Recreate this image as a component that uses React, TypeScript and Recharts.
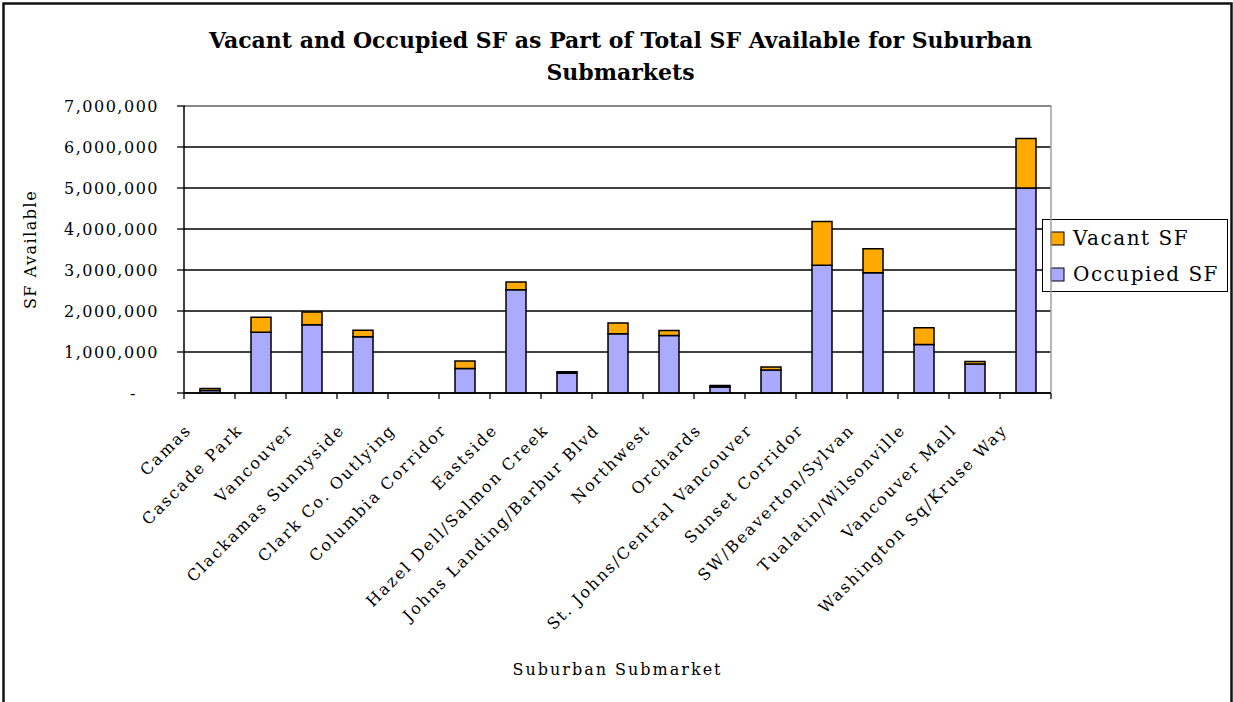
import React from 'react';
import { BarChart, Bar, XAxis, YAxis, CartesianGrid, Legend } from 'recharts';

const categories = [
  'Camas',
  'Cascade Park',
  'Vancouver',
  'Clackamas Sunnyside',
  'Clark Co. Outlying',
  'Columbia Corridor',
  'Eastside',
  'Hazel Dell/Salmon Creek',
  'Johns Landing/Barbur Blvd',
  'Northwest',
  'Orchards',
  'St. Johns/Central Vancouver',
  'Sunset Corridor',
  'SW/Beaverton/Sylvan',
  'Tualatin/Wilsonville',
  'Vancouver Mall',
  'Washington Sq/Kruse Way',
];

const occupiedSF = [
  60000, 1480000, 1665000, 1375000, 0, 595000, 2520000, 480000, 1445000,
  1405000, 145000, 560000, 3115000, 2935000, 1185000, 705000, 5000000,
];

const vacantSF = [
  50000, 370000, 310000, 155000, 0, 185000, 185000, 40000, 260000,
  120000, 40000, 75000, 1065000, 585000, 405000, 65000, 1210000,
];

const yTicks = [0, 1000000, 2000000, 3000000, 4000000, 5000000, 6000000, 7000000];

const data = categories.map((name, i) => ({
  name,
  occupied: occupiedSF[i],
  vacant: vacantSF[i],
}));

const W = 1233;
const H = 702;
const PLOT_LEFT = 184;
const PLOT_RIGHT = 1051;
const PLOT_TOP = 106;
const PLOT_BOTTOM = 393;
const X_AXIS_H = 60;
const BAND = (PLOT_RIGHT - PLOT_LEFT) / categories.length;

const FONT = '"DejaVu Serif", serif';
const OCCUPIED = '#AAAAFF';
const VACANT = '#FFAA00';

const XTick = (props: any) => {
  const { x, y, payload, index } = props;
  const left = x - BAND / 2;
  const tx = x - 17;
  const ty = y + 38;
  return (
    <g>
      <line x1={left} y1={y} x2={left} y2={y + 6} stroke="#000" strokeWidth={1.3} />
      {index === categories.length - 1 && (
        <line x1={x + BAND / 2} y1={y} x2={x + BAND / 2} y2={y + 6} stroke="#000" strokeWidth={1.3} />
      )}
      <text
        x={tx}
        y={ty}
        textAnchor="end"
        transform={`rotate(-45, ${tx}, ${ty})`}
        fontFamily={FONT}
        fontSize={16}
        letterSpacing={2}
        fill="#000"
      >
        {payload.value}
      </text>
    </g>
  );
};

const YTick = (props: any) => {
  const { x, y, payload } = props;
  const v = payload.value as number;
  return (
    <text
      x={v === 0 ? x - 22 : x}
      y={y}
      dy="0.35em"
      textAnchor="end"
      fontFamily={FONT}
      fontSize={16}
      letterSpacing={1.5}
      fill="#000"
    >
      {v === 0 ? '-' : v.toLocaleString('en-US')}
    </text>
  );
};

// legend lists Vacant first, as stacked from the top
const legendItems = [
  { label: 'Vacant SF', color: VACANT },
  { label: 'Occupied SF', color: OCCUPIED },
];

const LegendBox = () => (
  <svg width={186} height={73} style={{ display: 'block' }}>
    <rect x={0.5} y={0.5} width={185} height={72} fill="#fff" stroke="#000" strokeWidth={1} />
    {legendItems.map((it, i) => (
      <g key={it.label}>
        <rect x={9} y={13 + i * 36} width={13} height={13} fill={it.color} stroke="#000" strokeWidth={1} />
        <text
          x={31}
          y={26 + i * 36}
          fontFamily={FONT}
          fontSize={20}
          letterSpacing={1.5}
          fill="#000"
        >
          {it.label}
        </text>
      </g>
    ))}
  </svg>
);

export default function App() {
  const midX = (PLOT_LEFT + PLOT_RIGHT) / 2;
  const midY = (PLOT_TOP + PLOT_BOTTOM) / 2;
  return (
    <div style={{ position: 'absolute', left: 0, top: 0, width: W, height: H, background: '#fff' }}>
      <svg width={W} height={H} style={{ position: 'absolute', left: 0, top: 0 }}>
        <rect x={3.5} y={3.5} width={1228} height={720} fill="none" stroke="#111" strokeWidth={2.5} />
        <text x={midX + 3} y={48} textAnchor="middle" fontFamily={FONT} fontWeight="bold" fontSize={22} fill="#000">
          Vacant and Occupied SF as Part of Total SF Available for Suburban
        </text>
        <text x={midX + 3} y={80} textAnchor="middle" fontFamily={FONT} fontWeight="bold" fontSize={22} fill="#000">
          Submarkets
        </text>
        <text
          x={36}
          y={midY}
          textAnchor="middle"
          transform={`rotate(-90, 36, ${midY})`}
          fontFamily={FONT}
          fontSize={16}
          letterSpacing={1.5}
          fill="#000"
        >
          SF Available
        </text>
        <text x={midX} y={675} textAnchor="middle" fontFamily={FONT} fontSize={16} letterSpacing={2} fill="#000">
          Suburban Submarket
        </text>
      </svg>
      <div style={{ position: 'absolute', left: 0, top: 0 }}>
        <BarChart
          width={W}
          height={H}
          data={data}
          margin={{ top: PLOT_TOP, right: W - PLOT_RIGHT, bottom: H - PLOT_BOTTOM - X_AXIS_H, left: 0 }}
        >
          <CartesianGrid vertical={false} stroke="#000" strokeWidth={1.3} />
          <XAxis
            dataKey="name"
            interval={0}
            height={X_AXIS_H}
            tickSize={0}
            tickMargin={0}
            tickLine={false}
            axisLine={{ stroke: '#000', strokeWidth: 1.5 }}
            tick={<XTick />}
          />
          <YAxis
            domain={[0, 7000000]}
            ticks={yTicks}
            width={PLOT_LEFT}
            tickSize={7}
            tickMargin={18}
            tickLine={{ stroke: '#000', strokeWidth: 1.3 }}
            axisLine={{ stroke: '#000', strokeWidth: 1.5 }}
            tick={<YTick />}
          />
          <Bar dataKey="occupied" name="Occupied SF" stackId="sf" fill={OCCUPIED} stroke="#000" strokeWidth={1.5} barSize={20} isAnimationActive={false} />
          <Bar dataKey="vacant" name="Vacant SF" stackId="sf" fill={VACANT} stroke="#000" strokeWidth={1.5} barSize={20} isAnimationActive={false} />
          <Legend
            layout="horizontal"
            verticalAlign="middle"
            align="center"
            content={() => <LegendBox />}
            wrapperStyle={{ position: 'absolute', left: 1042, top: 219, width: 186, height: 73 }}
          />
        </BarChart>
      </div>
      {/* grey plot-area border on the top and right edges, drawn over the grid */}
      <svg width={W} height={H} style={{ position: 'absolute', left: 0, top: 0, pointerEvents: 'none' }}>
        <polyline
          points={`${PLOT_LEFT + 1},${PLOT_TOP} ${PLOT_RIGHT},${PLOT_TOP} ${PLOT_RIGHT},${PLOT_BOTTOM - 1}`}
          fill="none"
          stroke="#a0a0a0"
          strokeWidth={1.5}
        />
      </svg>
    </div>
  );
}
